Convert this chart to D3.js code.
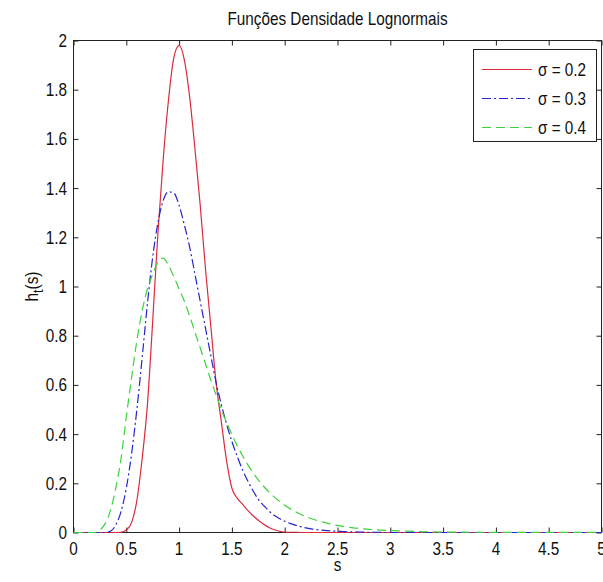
<!DOCTYPE html>
<html>
<head>
<meta charset="utf-8">
<script src="https://cdn.jsdelivr.net/npm/d3@7/dist/d3.min.js"></script>
<style>
  html, body { margin: 0; padding: 0; background: #fff; }
  svg { display: block; }
  text { font-family: "Liberation Sans", Arial, sans-serif; fill: #111; }
</style>
</head>
<body>
<svg id="chart" width="603" height="582"></svg>
<script>
// Abscissa grid shared by the three densities
const sGrid = [
  0.00, 0.05, 0.10, 0.15, 0.20, 0.25, 0.30, 0.35, 0.40, 0.45,
  0.50, 0.55, 0.60, 0.65, 0.70, 0.75, 0.80, 0.85, 0.90, 0.95,
  1.00, 1.05, 1.10, 1.15, 1.20, 1.25, 1.30, 1.35, 1.40, 1.45,
  1.50, 1.55, 1.60, 1.65, 1.70, 1.75, 1.80, 1.85, 1.90, 1.95,
  2.00, 2.05, 2.10, 2.15, 2.20, 2.25, 2.30, 2.35, 2.40, 2.45,
  2.50, 2.55, 2.60, 2.65, 2.70, 2.75, 2.80, 2.85, 2.90, 2.95,
  3.00, 3.50, 4.00, 4.50, 5.00
];

// σ = 0.2
const hSigma02 = [
  0, 0, 0, 0, 0, 0, 0, 0, 0, 0.001,
  0.01, 0.04, 0.13, 0.30, 0.52, 0.86, 1.22, 1.52, 1.76, 1.93,
  1.98, 1.92, 1.77, 1.56, 1.33, 1.07, 0.84, 0.61, 0.45, 0.29,
  0.18, 0.14, 0.115, 0.09, 0.068, 0.05, 0.034, 0.02, 0.011, 0.005,
  0.002, 0.001, 0.001, 0, 0, 0, 0, 0, 0, 0,
  0, 0, 0, 0, 0, 0, 0, 0, 0, 0,
  0, 0, 0, 0, 0
];

// σ = 0.3
const hSigma03 = [
  0, 0, 0, 0, 0, 0, 0, 0.005, 0.03, 0.085,
  0.18, 0.32, 0.50, 0.71, 0.93, 1.12, 1.26, 1.35, 1.385, 1.38,
  1.33, 1.25, 1.16, 1.05, 0.94, 0.83, 0.72, 0.61, 0.52, 0.44,
  0.37, 0.31, 0.255, 0.21, 0.17, 0.135, 0.11, 0.088, 0.07, 0.057,
  0.046, 0.037, 0.030, 0.024, 0.019, 0.015, 0.012, 0.0095, 0.0075, 0.006,
  0.005, 0.004, 0.003, 0.0025, 0.002, 0.0015, 0.001, 0.001, 0.001, 0,
  0, 0, 0, 0, 0
];

// σ = 0.4
const hSigma04 = [
  0, 0, 0, 0, 0, 0.01, 0.036, 0.09, 0.18, 0.30,
  0.47, 0.63, 0.78, 0.90, 0.99, 1.05, 1.10, 1.115, 1.085, 1.04,
  0.99, 0.94, 0.88, 0.815, 0.75, 0.685, 0.62, 0.56, 0.50, 0.447,
  0.398, 0.353, 0.313, 0.276, 0.243, 0.214, 0.188, 0.165, 0.145, 0.127,
  0.111, 0.097, 0.085, 0.074, 0.065, 0.057, 0.050, 0.044, 0.038, 0.033,
  0.029, 0.025, 0.022, 0.019, 0.017, 0.015, 0.013, 0.011, 0.010, 0.009,
  0.008, 0.002, 0.0006, 0.0002, 0.0001
];

const seriesNames = ["σ = 0.2", "σ = 0.3", "σ = 0.4"];
const xTicks = [0, 0.5, 1, 1.5, 2, 2.5, 3, 3.5, 4, 4.5, 5];
const xTickLabels = ["0", "0.5", "1", "1.5", "2", "2.5", "3", "3.5", "4", "4.5", "5"];
const yTicks = [0, 0.2, 0.4, 0.6, 0.8, 1, 1.2, 1.4, 1.6, 1.8, 2];
const yTickLabels = ["0", "0.2", "0.4", "0.6", "0.8", "1", "1.2", "1.4", "1.6", "1.8", "2"];

const titleText = "Funções Densidade Lognormais";
const xLabelText = "s";

const svg = d3.select("#chart");
const plot = { left: 73.5, right: 601.5, top: 40.5, bottom: 532.5 };

const x = d3.scaleLinear().domain([0, 5]).range([plot.left, plot.right]);
const y = d3.scaleLinear().domain([0, 2]).range([plot.bottom, plot.top]);

const FONT = 18, SQUEEZE = 0.85;

// Narrow text helper: places a label and compresses it horizontally
function label(parent, tx, ty, str, anchor, rot) {
  const g = parent.append("g")
    .attr("transform", `translate(${tx},${ty})` + (rot ? ` rotate(${rot})` : "") + ` scale(${SQUEEZE},1)`);
  return g.append("text")
    .attr("font-size", FONT)
    .attr("text-anchor", anchor)
    .text(str);
}

const styles = [
  { data: hSigma02, color: "#dc2a3c", dash: null },
  { data: hSigma03, color: "#2424c8", dash: "9,3,2,3" },
  { data: hSigma04, color: "#3cd23c", dash: "9,5" }
];

// Ticks on all four sides, pointing inward
const tickLen = 5;
svg.append("g").attr("transform", `translate(0,${plot.bottom})`)
  .call(d3.axisBottom(x).tickValues(xTicks).tickSize(-tickLen).tickFormat(""));
svg.append("g").attr("transform", `translate(0,${plot.top})`)
  .call(d3.axisTop(x).tickValues(xTicks).tickSize(-tickLen).tickFormat(""));
svg.append("g").attr("transform", `translate(${plot.left},0)`)
  .call(d3.axisLeft(y).tickValues(yTicks).tickSize(-tickLen).tickFormat(""));
svg.append("g").attr("transform", `translate(${plot.right},0)`)
  .call(d3.axisRight(y).tickValues(yTicks).tickSize(-tickLen).tickFormat(""));
svg.selectAll(".domain").remove();
svg.selectAll(".tick line").attr("stroke", "#222");

// Frame
svg.append("rect")
  .attr("x", plot.left).attr("y", plot.top)
  .attr("width", plot.right - plot.left).attr("height", plot.bottom - plot.top)
  .attr("fill", "none").attr("stroke", "#222").attr("stroke-width", 1);

// Curves, drawn over the frame so the zero tails show along the axis
svg.append("defs").append("clipPath").attr("id", "plotClip")
  .append("rect")
  .attr("x", plot.left).attr("y", plot.top - 2)
  .attr("width", plot.right - plot.left).attr("height", plot.bottom - plot.top + 4);

const line = d3.line()
  .x((d, i) => x(sGrid[i]))
  .y(d => y(d))
  .curve(d3.curveMonotoneX);

const curves = svg.append("g").attr("clip-path", "url(#plotClip)");
styles.forEach(s => {
  curves.append("path")
    .attr("d", line(s.data))
    .attr("fill", "none")
    .attr("stroke", s.color)
    .attr("stroke-width", 1.2)
    .attr("stroke-dasharray", s.dash);
});

// Tick labels
xTicks.forEach((v, i) => label(svg, x(v), 555, xTickLabels[i], "middle"));
yTicks.forEach((v, i) => label(svg, 67, y(v) + 6.5, yTickLabels[i], "end"));

// Title and axis labels
label(svg, (plot.left + plot.right) / 2, 25, titleText, "middle");
label(svg, (plot.left + plot.right) / 2, 571, xLabelText, "middle");

const yl = label(svg, 38, (plot.top + plot.bottom) / 2, "", "middle", -90);
yl.append("tspan").text("h");
yl.append("tspan").attr("dy", 5).attr("font-size", 15).text("t");
yl.append("tspan").attr("dy", -5).text("(s)");

// Legend
const legend = { x: 473.5, y: 49.5, w: 123, h: 92 };
svg.append("rect")
  .attr("x", legend.x).attr("y", legend.y)
  .attr("width", legend.w).attr("height", legend.h)
  .attr("fill", "#fff").attr("stroke", "#222").attr("stroke-width", 1);
const rowY = [69.5, 98.5, 127.5];
styles.forEach((s, i) => {
  svg.append("line")
    .attr("x1", 482).attr("x2", 532)
    .attr("y1", rowY[i]).attr("y2", rowY[i])
    .attr("stroke", s.color).attr("stroke-width", 1.2)
    .attr("stroke-dasharray", s.dash);
  label(svg, 538, rowY[i] + 6.5, seriesNames[i], "start");
});
</script>
</body>
</html>
